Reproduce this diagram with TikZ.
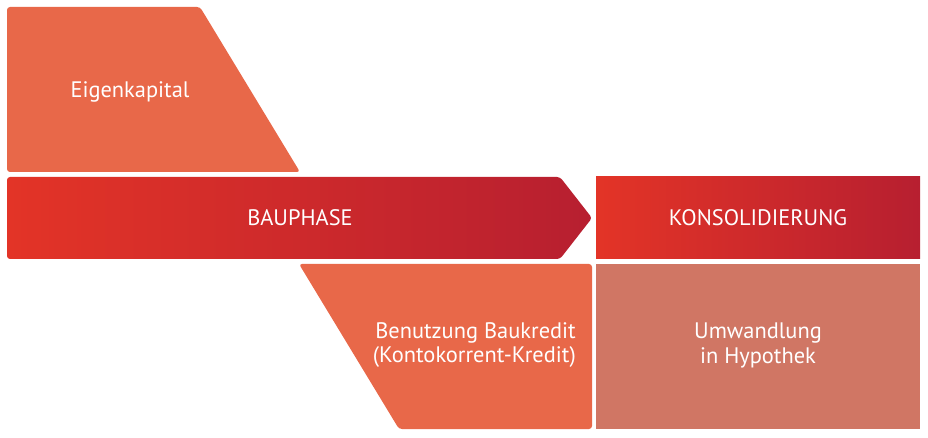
\documentclass[tikz,border=0pt]{standalone}
\usepackage{fontspec}
\setmainfont{PT Sans}
\definecolor{orangebox}{HTML}{E86849}
\definecolor{rosebox}{HTML}{D07664}
\definecolor{redL}{HTML}{E33427}
\definecolor{redR}{HTML}{B71F30}
\begin{document}
\begin{tikzpicture}[x=1bp,y=-1bp,
  lbl/.style={text=white,font=\fontsize{22.5}{25}\selectfont,inner sep=0pt},
  rc/.style={rounded corners=3bp}]
\useasboundingbox (0,0) rectangle (928,438);
% Eigenkapital
\fill[orangebox,rc] (7,7) -- (200,7) -- (300,172) -- (7,172) -- cycle;
% Bauphase arrow
\shade[rc,left color=redL,right color=redR] (7,177) -- (560,177) -- (592,218) -- (560,259) -- (7,259) -- cycle;
% Benutzung
\fill[orangebox,rc] (299,264) -- (592,264) -- (592,429) -- (399,429) -- cycle;
% Konsolidierung
\shade[left color=redL,right color=redR] (596,177) rectangle (920,259);
% Umwandlung
\fill[rosebox] (596,264) rectangle (920,429);
% labels
\node[lbl] (eigen) at (130,92) {Eigenkapital};
\node[lbl] (bau) at (300,218) {BAUPHASE};
\node[lbl] (kons) at (758,218) {KONSOLIDIERUNG};
\node[lbl,align=right,anchor=east] (benu) at (576,345) {Benutzung Baukredit\\(Kontokorrent-Kredit)};
\node[lbl,align=center] (umw) at (758,345) {Umwandlung\\in Hypothek};
\end{tikzpicture}
\end{document}
